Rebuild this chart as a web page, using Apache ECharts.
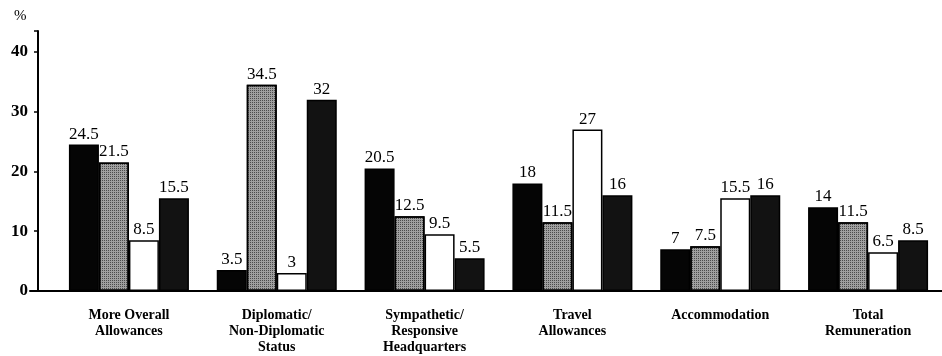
<!DOCTYPE html>
<html>
<head>
<meta charset="utf-8">
<script src="https://cdn.jsdelivr.net/npm/echarts@6/dist/echarts.min.js"></script>
<style>
html,body{margin:0;padding:0;background:#fff;}
#chart{width:942px;height:356px;}
</style>
</head>
<body>
<div id="chart"></div>
<script>
var categories = ['More Overall\nAllowances', 'Diplomatic/\nNon-Diplomatic\nStatus', 'Sympathetic/\nResponsive\nHeadquarters', 'Travel\nAllowances', 'Accommodation', 'Total\nRemuneration'];
var seriesA = [24.5, 3.5, 20.5, 18, 7, 14];
var seriesB = [21.5, 34.5, 12.5, 11.5, 7.5, 11.5];
var seriesC = [8.5, 3, 9.5, 27, 15.5, 6.5];
var seriesD = [15.5, 32, 5.5, 16, 16, 8.5];
var yTicks = [0, 10, 20, 30, 40];

var font = 'Liberation Serif, Times New Roman, serif';
var chart = echarts.init(document.getElementById('chart'));

function bar(data, fill, decal) {
  var s = {
    type: 'bar',
    data: data,
    barWidth: 30,
    barGap: '0%',
    xAxisIndex: 0, yAxisIndex: 0,
    itemStyle: { color: fill, borderColor: '#000', borderWidth: 1.5 },
    label: {
      show: true, position: 'top', distance: 2,
      color: '#000', fontFamily: font, fontSize: 17,
      formatter: function (p) { return String(p.value); }
    }
  };
  if (decal) s.itemStyle.decal = decal;
  return s;
}

chart.setOption({
  animation: false,
  backgroundColor: '#fff',
  title: { text: '%', left: 9, top: 4, textStyle: { fontFamily: font, fontSize: 15, fontWeight: 'normal', color: '#000' } },
  grid: [
    { left: 55, right: -11, top: 31, bottom: 65 },
    { left: 30, right: 0, top: 31, bottom: 65 }
  ],
  xAxis: [
    {
      type: 'category', gridIndex: 0, data: categories,
      axisLine: { show: false }, axisTick: { show: false },
      axisLabel: { color: '#000', fontFamily: font, fontSize: 14, fontWeight: 'bold', lineHeight: 16, margin: 16, interval: 0 }
    },
    {
      type: 'value', gridIndex: 1, min: 0, max: 1,
      axisLine: { show: true, lineStyle: { color: '#000', width: 2 } },
      axisTick: { show: false }, axisLabel: { show: false }, splitLine: { show: false }
    }
  ],
  yAxis: [
    {
      type: 'value', gridIndex: 0, min: 0, max: 43.5, interval: 10, offset: 17,
      axisLine: { show: true, lineStyle: { color: '#000', width: 2 } },
      axisTick: { show: true, length: 4, lineStyle: { color: '#000', width: 1.5 } },
      splitLine: { show: false },
      axisLabel: {
        color: '#000', fontFamily: font, fontSize: 17, fontWeight: 'bold', margin: 10,
        formatter: function (v) { return yTicks.indexOf(v) >= 0 ? String(v) : ''; }
      }
    },
    { type: 'value', gridIndex: 1, min: 0, max: 1, show: false }
  ],
  series: [
    bar(seriesA, '#050505'),
    bar(seriesB, '#a0a0a0', { symbol: 'rect', symbolSize: 1, dashArrayX: [1, 1], dashArrayY: [1, 1], color: 'rgba(20,20,20,0.6)', rotation: 0 }),
    bar(seriesC, '#ffffff'),
    bar(seriesD, '#121212')
  ]
});
</script>
</body>
</html>
